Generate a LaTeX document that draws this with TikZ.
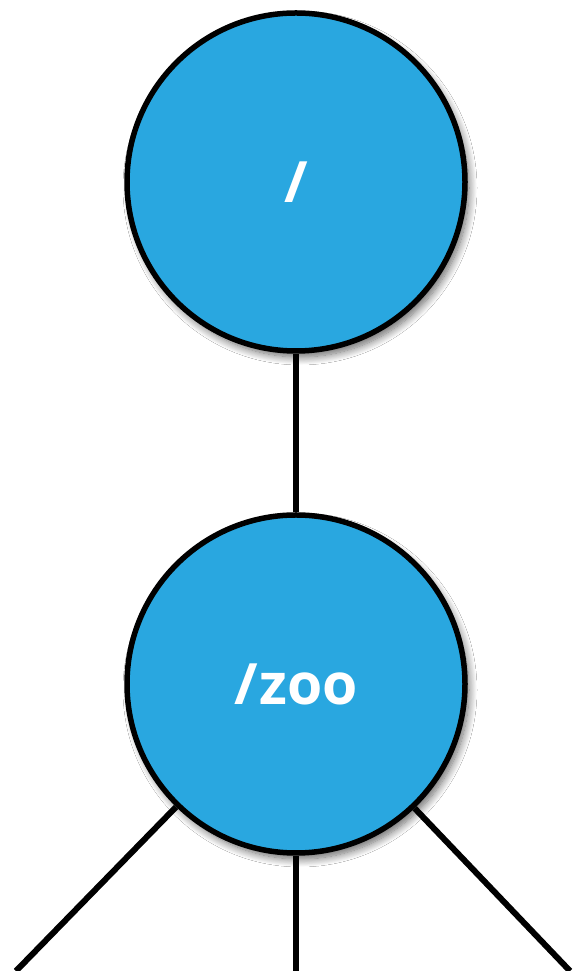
\documentclass[tikz,border=0pt]{standalone}
\usepackage{fontspec}
\setmainfont{Open Sans}
\usetikzlibrary{backgrounds,shadows.blur}
\definecolor{nodeblue}{RGB}{41,167,224}
\tikzset{
  dirnode/.style={circle, draw=black, line width=5.5pt, fill=nodeblue,
    minimum size=338pt, inner sep=0pt, text=white,
    font=\fontsize{57}{64}\selectfont\bfseries,
    blur shadow={shadow xshift=4pt, shadow yshift=-6pt, shadow blur radius=8pt, shadow blur steps=12, shadow opacity=60}},
  edge/.style={draw=black, line width=6pt}
}
\begin{document}
\begin{tikzpicture}[x=1pt,y=1pt]
  \useasboundingbox (0,0) rectangle (574,971);
  \node[dirnode] (root) at (296,789) {/};
  \node[dirnode] (zoo) at (296,287) {/\kern2pt zoo};
  \coordinate (l) at (16,0);
  \coordinate (m) at (296,0);
  \coordinate (r) at (570,0);
  \begin{scope}[on background layer]
    \fill[white] (0,0) rectangle (574,971);
    \draw[edge] (root) -- (zoo);
    \draw[edge] (zoo) -- (l);
    \draw[edge] (zoo) -- (m);
    \draw[edge] (zoo) -- (r);
  \end{scope}
\end{tikzpicture}
\end{document}
